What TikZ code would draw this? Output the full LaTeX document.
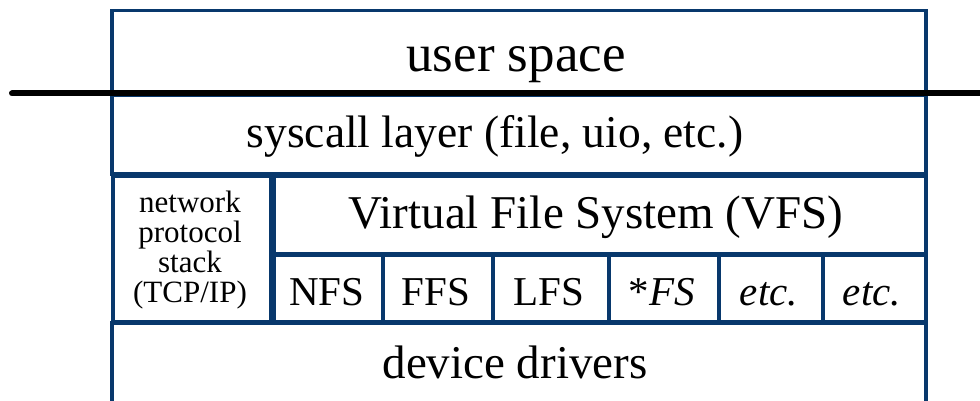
\documentclass[tikz,border=0pt]{standalone}
\usepackage{fontspec}
\setmainfont{Liberation Serif}
\definecolor{boxblue}{RGB}{8,56,108}
\begin{document}
\begin{tikzpicture}[x=1pt,y=-1pt,
  box/.style={draw=boxblue,line width=3.5pt,rectangle,inner sep=0pt,anchor=north west},
  lbl/.style={anchor=base,inner sep=0pt,text=black}]
\useasboundingbox (0,0) rectangle (980,401);
\begin{scope}
\clip (0,0) rectangle (980,401);
% boxes (positions in px of the 980x401 reference)
\node[box,minimum width=814pt,minimum height=85pt] (userbox) at (110,9) {};
\node[box,minimum width=814pt,minimum height=78pt] (sysbox) at (110,94) {};
\node[box,minimum width=158pt,minimum height=146pt] (netbox) at (111,174) {};
\node[box,minimum width=652pt,minimum height=78pt] (vfsbox) at (272,174) {};
\node[box,minimum width=109pt,minimum height=67pt] (nfs) at (272,253) {};
\node[box,minimum width=110pt,minimum height=67pt] (ffs) at (381,253) {};
\node[box,minimum width=116pt,minimum height=67pt] (lfs) at (491,253) {};
\node[box,minimum width=110pt,minimum height=67pt] (sfs) at (607,253) {};
\node[box,minimum width=104pt,minimum height=67pt] (etca) at (717,253) {};
\node[box,minimum width=103pt,minimum height=67pt] (etcb) at (821,253) {};
\node[box,minimum width=814pt,minimum height=110pt] (devbox) at (110,321) {};
% kernel/user boundary
\coordinate (bl) at (12,93.5);
\coordinate (br) at (990,93.5);
\draw[line width=6pt,line cap=round] (bl) -- (br);
% labels
\node[lbl,font=\fontsize{53}{53}\selectfont] (tuser) at (516,72) {user space};
\node[lbl,font=\fontsize{45.5}{45.5}\selectfont] (tsys) at (495,148) {syscall layer (file, uio, etc.)};
\node[lbl,font=\fontsize{47}{47}\selectfont] (tvfs) at (596,228) {Virtual File System (VFS)};
\node[lbl,font=\fontsize{47}{47}\selectfont] (tdev) at (515,378) {device drivers};
\node[lbl,font=\fontsize{41}{41}\selectfont] (tnfs) at (327,305) {NFS};
\node[lbl,font=\fontsize{41}{41}\selectfont] (tffs) at (436,305) {FFS};
\node[lbl,font=\fontsize{41}{41}\selectfont] (tlfs) at (549,305) {LFS};
\node[lbl,font=\fontsize{41}{41}\selectfont] (tsfs) at (662,305) {*\textit{FS}};
\node[lbl,font=\fontsize{41}{41}\selectfont] (tetca) at (769,305) {\textit{etc.}};
\node[lbl,font=\fontsize{41}{41}\selectfont] (tetcb) at (872,305) {\textit{etc.}};
\node[anchor=base,inner sep=0pt,align=center,font=\fontsize{31}{30}\selectfont] (tnet) at (190,302)
  {network\\protocol\\stack\\(TCP/IP)};
\end{scope}
\end{tikzpicture}
\end{document}
